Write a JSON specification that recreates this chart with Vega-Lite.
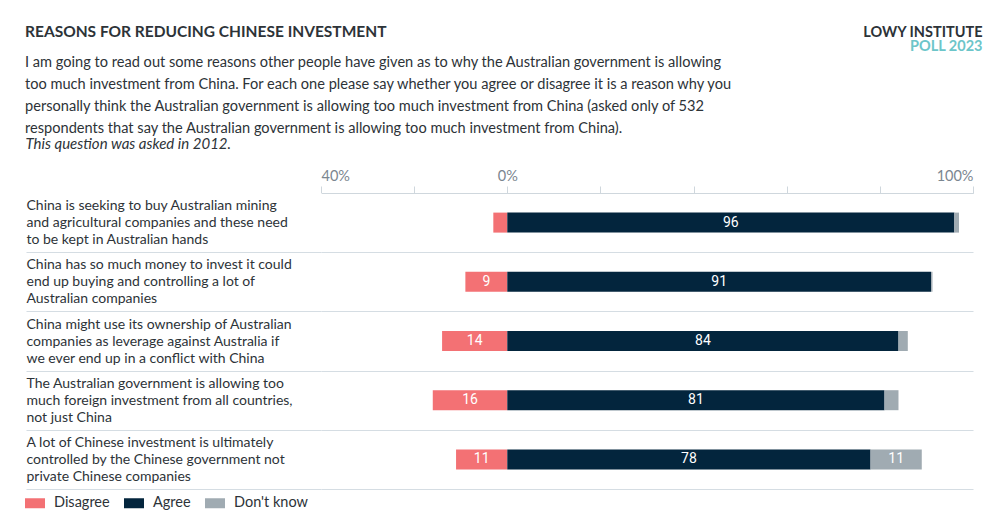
{
  "$schema": "https://vega.github.io/schema/vega-lite/v6.json",
  "width": 652,
  "height": 296,
  "autosize": {"type": "none"},
  "padding": {"left": 321, "top": 193, "right": 27, "bottom": 36},
  "background": "white",
  "config": {"view": {"stroke": null}, "font": "Lato"},
  "title": {
    "text": "REASONS FOR REDUCING CHINESE INVESTMENT",
    "subtitle": [
      "I am going to read out some reasons other people have given as to why the Australian government is allowing",
      "too much investment from China. For each one please say whether you agree or disagree it is a reason why you",
      "personally think the Australian government is allowing too much investment from China (asked only of 532",
      "respondents that say the Australian government is allowing too much investment from China)."
    ],
    "anchor": "start",
    "frame": "group",
    "dx": -296,
    "offset": -112,
    "font": "Lato",
    "fontSize": 15.5,
    "fontWeight": "bold",
    "color": "#2d3338",
    "subtitleFont": "Lato",
    "subtitleFontSize": 14.6,
    "subtitleColor": "#2d3338",
    "subtitleLineHeight": 22,
    "subtitlePadding": 15
  },
  "data": {
    "values": [
      {"question": "China is seeking to buy Australian mining|and agricultural companies and these need|to be kept in Australian hands", "response": "Disagree", "value": 3},
      {"question": "China is seeking to buy Australian mining|and agricultural companies and these need|to be kept in Australian hands", "response": "Agree", "value": 96},
      {"question": "China is seeking to buy Australian mining|and agricultural companies and these need|to be kept in Australian hands", "response": "Don't know", "value": 1},
      {"question": "China has so much money to invest it could|end up buying and controlling a lot of|Australian companies", "response": "Disagree", "value": 9},
      {"question": "China has so much money to invest it could|end up buying and controlling a lot of|Australian companies", "response": "Agree", "value": 91},
      {"question": "China has so much money to invest it could|end up buying and controlling a lot of|Australian companies", "response": "Don't know", "value": 0.3},
      {"question": "China might use its ownership of Australian|companies as leverage against Australia if|we ever end up in a conflict with China", "response": "Disagree", "value": 14},
      {"question": "China might use its ownership of Australian|companies as leverage against Australia if|we ever end up in a conflict with China", "response": "Agree", "value": 84},
      {"question": "China might use its ownership of Australian|companies as leverage against Australia if|we ever end up in a conflict with China", "response": "Don't know", "value": 2},
      {"question": "The Australian government is allowing too|much foreign investment from all countries,|not just China", "response": "Disagree", "value": 16},
      {"question": "The Australian government is allowing too|much foreign investment from all countries,|not just China", "response": "Agree", "value": 81},
      {"question": "The Australian government is allowing too|much foreign investment from all countries,|not just China", "response": "Don't know", "value": 3},
      {"question": "A lot of Chinese investment is ultimately|controlled by the Chinese government not|private Chinese companies", "response": "Disagree", "value": 11},
      {"question": "A lot of Chinese investment is ultimately|controlled by the Chinese government not|private Chinese companies", "response": "Agree", "value": 78},
      {"question": "A lot of Chinese investment is ultimately|controlled by the Chinese government not|private Chinese companies", "response": "Don't know", "value": 11}
    ]
  },
  "transform": [
    {"calculate": "datum.response === 'Disagree' ? -datum.value : datum.value", "as": "signed"},
    {"stack": "signed", "groupby": ["question"], "sort": [{"field": "response"}], "as": ["x0", "x1"]},
    {"calculate": "(datum.x0 + datum.x1) / 2", "as": "mid"}
  ],
  "encoding": {
    "y": {
      "field": "question",
      "type": "nominal",
      "sort": null,
      "scale": {"paddingInner": 0, "paddingOuter": 0},
      "axis": {
        "orient": "left",
        "title": "LOWY INSTITUTE",
        "titleAngle": 0,
        "titleAlign": "right",
        "titleBaseline": "alphabetic",
        "titleX": 661,
        "titleY": -157,
        "titleFont": "Lato",
        "titleFontSize": 14.5,
        "titleFontWeight": "bold",
        "titleColor": "#2d3338",
        "domain": false,
        "ticks": true,
        "tickSize": 295,
        "tickBand": "extent",
        "tickColor": {"condition": {"test": "!isString(datum.value)", "value": "#ffffff"}, "value": "#d5dde3"},
        "grid": true,
        "gridColor": "#d5dde3",
        "labelAlign": "left",
        "labelBaseline": "middle",
        "labelPadding": 0,
        "labelOffset": -17,
        "labelFont": "Lato",
        "labelFontSize": 14,
        "labelLineHeight": 17,
        "labelColor": "#2d3338",
        "labelLimit": 320,
        "labelExpr": "split(datum.label, '|')"
      }
    }
  },
  "layer": [
    {
      "mark": {"type": "bar", "size": 20},
      "encoding": {
        "x": {
          "field": "x0",
          "type": "quantitative",
          "scale": {"domain": [-40, 100], "nice": false, "zero": false},
          "axis": {
            "orient": "top",
            "values": [-40, -20, 0, 20, 40, 60, 80, 100],
            "labelExpr": "datum.value === -40 ? '40%' : datum.value === 0 ? '0%' : datum.value === 100 ? '100%' : ''",
            "labelFlush": true,
            "labelFont": "Lato",
            "labelFontSize": 14.5,
            "labelColor": "#7b8690",
            "labelPadding": 3,
            "domainColor": "#cfd7dd",
            "tickColor": "#cfd7dd",
            "tickSize": 7,
            "grid": false,
            "title": "This question was asked in 2012.",
            "titleFont": "Lato",
            "titleFontStyle": "italic",
            "titleFontWeight": "normal",
            "titleFontSize": 15,
            "titleColor": "#2d3338",
            "titleAlign": "left",
            "titleBaseline": "alphabetic",
            "titleX": -296,
            "titleY": -45
          }
        },
        "x2": {"field": "x1"},
        "color": {
          "field": "response",
          "type": "nominal",
          "scale": {"domain": ["Disagree", "Agree", "Don't know"], "range": ["#f37174", "#03253d", "#a0abb2"]},
          "legend": {
            "orient": "none",
            "legendX": -296,
            "legendY": 300,
            "direction": "horizontal",
            "title": null,
            "symbolType": "M-1,-0.5H1V0.5H-1Z",
            "symbolSize": 400,
            "symbolStrokeWidth": 0,
            "symbolOpacity": 1,
            "labelFont": "Lato",
            "labelFontSize": 14.5,
            "labelColor": "#2d3338",
            "labelOffset": 9,
            "columnPadding": 14
          }
        }
      }
    },
    {
      "transform": [{"filter": "datum.value >= 5"}],
      "mark": {"type": "text", "color": "white", "font": "Roboto", "fontSize": 14, "align": "center", "baseline": "middle"},
      "encoding": {
        "x": {
          "field": "mid",
          "type": "quantitative",
          "axis": {
            "orient": "bottom",
            "labels": false,
            "ticks": false,
            "domain": false,
            "grid": false,
            "title": "POLL 2023",
            "titleFont": "Lato",
            "titleFontSize": 14.5,
            "titleFontWeight": "bold",
            "titleColor": "#6cc5c9",
            "titleAlign": "right",
            "titleBaseline": "alphabetic",
            "titleAngle": 0,
            "titleX": 661,
            "titleY": -439
          }
        },
        "text": {"field": "value", "type": "quantitative", "format": "d"}
      }
    }
  ]
}
